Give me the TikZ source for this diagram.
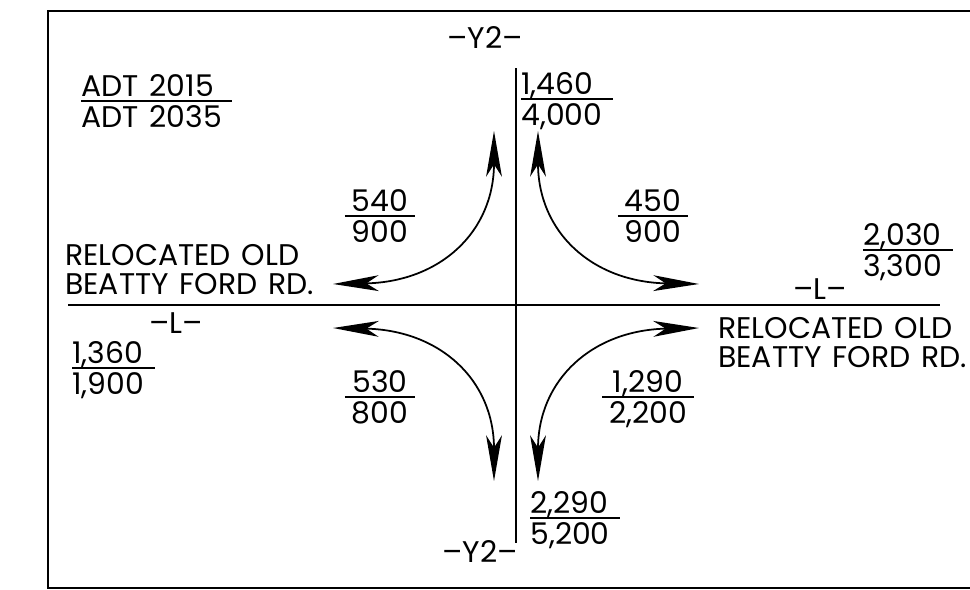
\documentclass[tikz,border=0pt]{standalone}
\usepackage{fontspec}
\setmainfont{Poppins}
\usetikzlibrary{arrows.meta}
\setlength{\arrayrulewidth}{0.9pt}
\newcommand{\gap}{\hspace{0.36em}}
\newcommand{\volL}[2]{\begin{tabular}[t]{@{}l@{\hspace{6pt}}}#1\\[-2.4pt]\hline\rule{0pt}{14.8pt}#2\end{tabular}}
\newcommand{\volC}[2]{\begin{tabular}[t]{@{\hspace{4pt}}c@{\hspace{4pt}}}#1\\[-2.4pt]\hline\rule{0pt}{14.8pt}#2\end{tabular}}

\begin{document}
\begin{tikzpicture}[x=0.02cm, y=-0.02cm,
  >={Stealth[length=26pt, width=9pt, inset=7pt]},
  lbl/.style={font=\fontsize{17}{16}\selectfont, inner sep=0pt},
  road/.style={line width=1.1pt},
  turn/.style={<->, line width=1pt}]
\useasboundingbox (0,0) rectangle (970,589);
% ---- sheet frame ----
\draw[line width=1.4pt] (970,11) -- (48,11) -- (48,588) -- (970,588);
% ---- road centrelines ----
\coordinate (Lw) at (68,305);
\coordinate (Le) at (940,305);
\coordinate (Yn) at (516,68);
\coordinate (Ys) at (516,543);
\draw[road] (Lw) -- (Le);
\draw[road] (Yn) -- (Ys);
% ---- turning movements ----
\coordinate (nwW) at (333,284); \coordinate (nwN) at (494,131);
\coordinate (neE) at (699,284); \coordinate (neN) at (538,131);
\coordinate (swW) at (333,328); \coordinate (swS) at (494,481);
\coordinate (seE) at (699,328); \coordinate (seS) at (538,481);
\draw[turn] (nwW) .. controls (440,282) and (494,232) .. (nwN);
\draw[turn] (neE) .. controls (592,282) and (538,232) .. (neN);
\draw[turn] (swW) .. controls (440,330) and (494,380) .. (swS);
\draw[turn] (seE) .. controls (592,330) and (538,380) .. (seS);
% ---- legend ----
\node[lbl, anchor=base west] (legend) at (81,96) {\volL{ADT\gap 2015}{ADT\gap 2035}};
% ---- route labels ----
\node[lbl, anchor=base] (y2top) at (485,48) {\textendash Y2\textendash};
\node[lbl, anchor=base] (y2bot) at (480,562) {\textendash Y2\textendash};
\node[lbl, anchor=base] (lEast) at (820,299) {\textendash L\textendash};
\node[lbl, anchor=base] (lWest) at (176,333) {\textendash L\textendash};
\node[lbl, anchor=base west] (rdWest) at (65,265)
  {\begin{tabular}[t]{@{}l@{}}RELOCATED\gap OLD\\BEATTY\gap FORD\gap RD.\end{tabular}};
\node[lbl, anchor=base west] (rdEast) at (718,338)
  {\begin{tabular}[t]{@{}l@{}}RELOCATED\gap OLD\\BEATTY\gap FORD\gap RD.\end{tabular}};
% ---- approach volumes ----
\node[lbl, anchor=base west] (vNorth) at (521,94) {\volL{1,460}{4,000}};
\node[lbl, anchor=base west] (vEast) at (863,245) {\volL{2,030}{3,300}};
\node[lbl, anchor=base west] (vWest) at (72,363) {\volL{1,360}{1,900}};
\node[lbl, anchor=base west] (vSouth) at (530,513) {\volL{2,290}{5,200}};
% ---- turning volumes ----
\node[lbl, anchor=base] (tNW) at (380,211) {\volC{540}{900}};
\node[lbl, anchor=base] (tNE) at (653,211) {\volC{450}{900}};
\node[lbl, anchor=base] (tSW) at (380,392) {\volC{530}{800}};
\node[lbl, anchor=base] (tSE) at (648,392) {\volC{1,290}{2,200}};
\end{tikzpicture}
\end{document}
